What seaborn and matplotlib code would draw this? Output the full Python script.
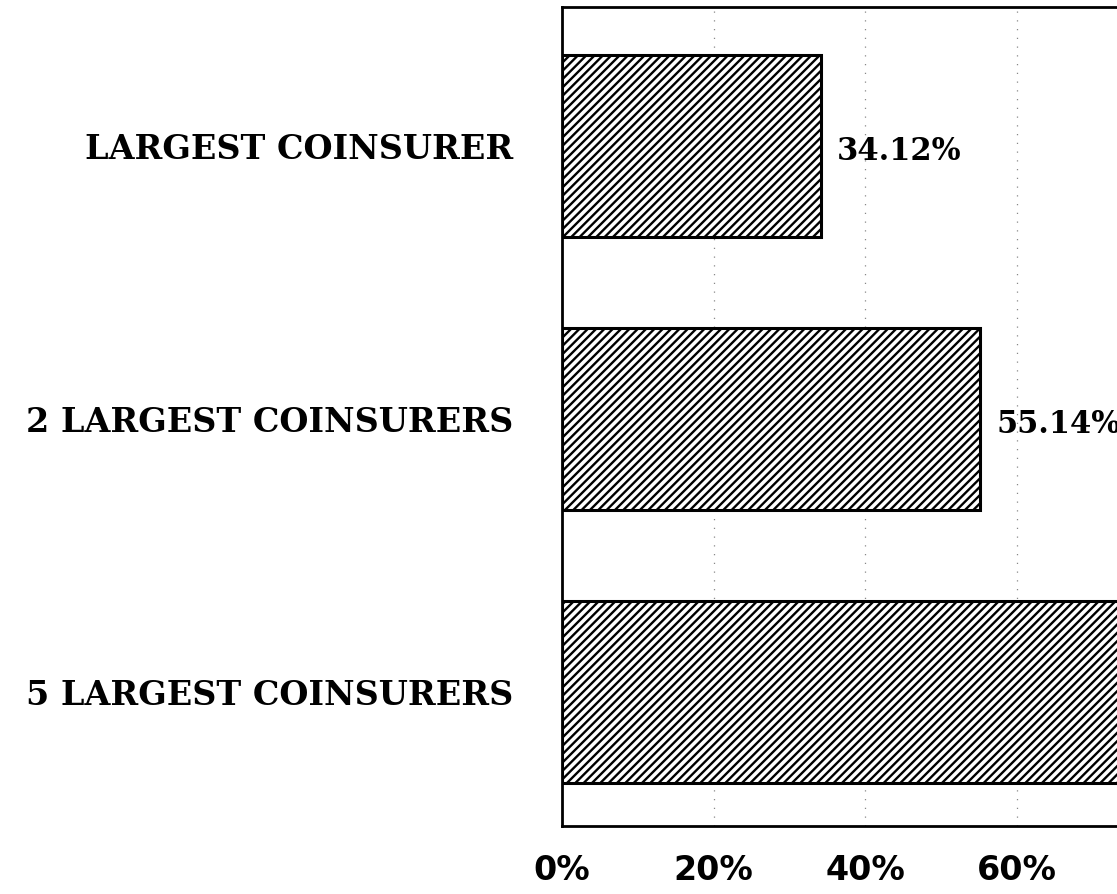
import matplotlib
matplotlib.use("Agg")
import matplotlib.pyplot as plt
import seaborn as sns
import pandas as pd

# values (third bar runs off the page, estimated)
categories = ["LARGEST COINSURER", "2 LARGEST COINSURERS", "5 LARGEST COINSURERS"]
shares = [34.12, 55.14, 79.50]
value_labels = ["34.12%", "55.14%", "79.50%"]
xticks = [0, 20, 40, 60]
xtick_labels = ["0%", "20%", "40%", "60%"]

sns.set_style("white")
plt.rcParams["font.family"] = ["DejaVu Sans"]
plt.rcParams["text.color"] = "black"
plt.rcParams["xtick.color"] = "black"
plt.rcParams["ytick.color"] = "black"
plt.rcParams["hatch.linewidth"] = 1.7

df = pd.DataFrame({"category": categories, "share": shares})

fig = plt.figure(figsize=(11.17, 8.94), dpi=100)
# the scan is cropped on the right, so the axes end at the page edge
ax = fig.add_axes([0.503, 0.076, 0.497, 0.916])

# faint dotted gridlines from the scan
for x in [20, 40, 60]:
    ax.axvline(x, color="#888888", lw=0.9, ls=(0, (1, 6)), zorder=0)

sns.barplot(data=df, x="share", y="category", orient="h", color="white",
            edgecolor="black", linewidth=2.2, width=0.667, hatch="////",
            ax=ax, zorder=2)

ax.set_xlim(0, 73.2)
ax.set_ylim(2.49, -0.51)
ax.set_xlabel("")
ax.set_ylabel("")

ax.set_xticks(xticks)
ax.set_xticklabels(xtick_labels, fontsize=24, fontweight="bold")
ax.set_yticks(range(len(categories)))
ax.set_yticklabels(categories, family="DejaVu Serif", fontsize=24,
                   fontweight="bold")
ax.tick_params(axis="x", direction="in", length=15, width=2, pad=20,
               labelcolor="black")
ax.tick_params(axis="y", direction="in", length=5, width=1.5, pad=35,
               labelcolor="black")

for side in ["top", "bottom", "left"]:
    ax.spines[side].set_color("black")
    ax.spines[side].set_linewidth(2)
ax.spines["right"].set_visible(False)

# labels past the cropped edge are clipped away, as in the scan
for i, (v, lab) in enumerate(zip(shares, value_labels)):
    ax.annotate(lab, xy=(v, i), xytext=(12, -4), textcoords="offset points",
                ha="left", va="center", family="DejaVu Serif",
                fontsize=22, fontweight="bold", annotation_clip=True)

fig.savefig("out.png", dpi=100)
